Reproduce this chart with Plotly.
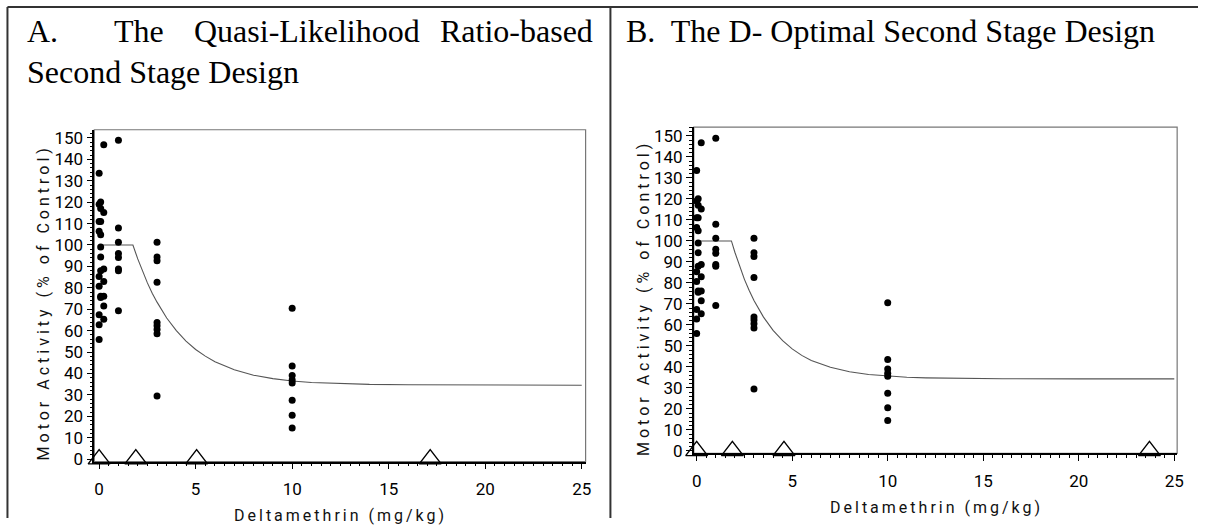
import plotly.graph_objects as go

# ---------------- data ----------------
# observed motor activity (% of control) by deltamethrin dose (mg/kg); same first-stage data in both panels
dose_obs = [0, 0, 0, 0, 0, 0, 0, 0, 0,
            0.08, 0.08, 0.08, 0.08, 0.08, 0.08, 0.08, 0.08, 0.08,
            0.24, 0.24, 0.24, 0.24, 0.24, 0.24, 0.24,
            1, 1, 1, 1, 1, 1, 1, 1,
            3, 3, 3, 3, 3, 3, 3, 3, 3,
            10, 10, 10, 10, 10, 10, 10, 10]
activity_obs = [133.5, 119, 111, 106.4, 85.3, 80.7, 67.4, 62.8, 55.9,
                120.1, 117, 111, 104.8, 99, 94.4, 88, 76.1, 75.5,
                146.8, 115.2, 88.8, 83, 76.1, 71.5, 65.3,
                148.9, 107.9, 101.3, 96, 94.1, 88.8, 88, 69.3,
                101.3, 94.4, 92.6, 82.6, 63.8, 62.3, 60.5, 58.5, 29.5,
                70.5, 43.5, 39, 37, 35.5, 27.5, 20.5, 14.5]

# fitted curve, panel A
curve_a_x = [0, 1.75, 2, 2.25, 2.5, 2.75, 3, 3.5, 4, 4.5, 5, 5.5, 6, 7, 8, 9, 10, 11, 12, 14, 16, 20, 25]
curve_a_y = [100, 100, 93.5, 87.6, 82.3, 77.5, 73.3, 65.9, 60.0, 55.1, 51.2, 48.1, 45.5, 41.7, 39.2,
             37.6, 36.5, 35.8, 35.4, 34.9, 34.7, 34.5, 34.5]
# fitted curve, panel B
curve_b_x = [0, 1.82, 2, 2.25, 2.5, 2.75, 3, 3.5, 4, 4.5, 5, 5.5, 6, 7, 8, 9, 10, 11, 12, 14, 16, 20, 25]
curve_b_y = [100, 100, 94.6, 87.8, 81.7, 76.4, 71.6, 63.7, 57.4, 52.5, 48.6, 45.5, 43.1, 39.8, 37.7,
             36.4, 35.6, 35.1, 34.8, 34.5, 34.4, 34.3, 34.3]

# second stage design points (triangles)
design_a = [0, 1.9, 5.05, 17.15]
design_b = [0, 1.87, 4.57, 23.7]
design_level = [0, 0, 0, 0]

x_ticks = [0, 5, 10, 15, 20, 25]
y_ticks = list(range(0, 151, 10))

title_a_line1 = ["A.", "The", "Quasi-Likelihood", "Ratio-based"]
title_a_line2 = "Second Stage Design"
title_b = "B.\u00a0 The D- Optimal Second Stage Design"
x_title = "Deltamethrin (mg/kg)"
y_title = "Motor Activity (% of Control)"

# ---------------- figure ----------------
W, H = 1205, 525
fig = go.Figure()

def px(xp):
    return xp / W

def py(yp):
    return 1 - yp / H

for i, (cx, cy, dx) in enumerate([(curve_a_x, curve_a_y, design_a), (curve_b_x, curve_b_y, design_b)]):
    xa = "x" if i == 0 else "x2"
    ya = "y" if i == 0 else "y2"
    fig.add_trace(go.Scatter(x=cx, y=cy, mode="lines", xaxis=xa, yaxis=ya,
                             line=dict(color="#555555", width=1.1), showlegend=False, hoverinfo="skip"))
    fig.add_trace(go.Scatter(x=dose_obs, y=activity_obs, mode="markers", xaxis=xa, yaxis=ya,
                             marker=dict(color="black", size=7, line=dict(width=0)), showlegend=False))
    fig.add_trace(go.Scatter(x=dx, y=design_level, mode="markers", xaxis=xa, yaxis=ya, cliponaxis=False,
                             marker=dict(symbol="triangle-up-open", size=19, color="black",
                                         line=dict(width=1.4, color="black")), showlegend=False))

tickfont = dict(family="Roboto", size=17, color="black")

def xaxis(domain, rng):
    return dict(domain=domain, range=rng, tickvals=x_ticks, ticks="outside", ticklen=6, tickwidth=1.2,
                tickcolor="black", showline=True, linecolor="black", linewidth=1.5, mirror=False,
                showgrid=False, zeroline=False, tickfont=tickfont, fixedrange=True, ticklabelstandoff=5,
                minor=dict(dtick=0.5, tick0=0, ticks="outside", ticklen=3, tickwidth=1, tickcolor="black"))

def yaxis(domain, rng, anchor):
    return dict(domain=domain, range=rng, tickvals=y_ticks, ticks="outside", ticklen=6, tickwidth=1.2,
                tickcolor="black", showline=True, linecolor="black", linewidth=1.5, mirror=False,
                showgrid=False, zeroline=False, tickfont=tickfont, anchor=anchor, fixedrange=True,
                minor=dict(dtick=2, tick0=0, ticks="outside", ticklen=3, tickwidth=1, tickcolor="black"))

fig.update_layout(
    width=W, height=H, autosize=False,
    margin=dict(l=0, r=0, t=0, b=0),
    paper_bgcolor="white", plot_bgcolor="white",
    xaxis=xaxis([px(93), px(588)], [-0.25, 25.2]),
    yaxis=yaxis([1 - 467.7 / H, 1 - 130 / H], [-1.2, 153.8], "x"),
    xaxis2=dict(xaxis([px(697), px(1184)], [-0.15, 25.15]), anchor="y2"),
    yaxis2=yaxis([1 - 459.3 / H, 1 - 127.3 / H], [-1.2, 154.2], "x2"),
)

# plot frames (top/right lines in gray)
for xr, yr in [("x domain", "y domain"), ("x2 domain", "y2 domain")]:
    fig.add_shape(type="rect", xref=xr, yref=yr, x0=0, x1=1, y0=0, y1=1,
                  line=dict(color="#777777", width=1.2), layer="below")

# outer page frame lines
frame = dict(color="#333333", width=2)
fig.add_shape(type="line", xref="paper", yref="paper", x0=px(5.5), x1=px(5.5), y0=py(5), y1=0, line=frame)
fig.add_shape(type="line", xref="paper", yref="paper", x0=px(5.5), x1=1, y0=py(5), y1=py(5), line=frame)
fig.add_shape(type="line", xref="paper", yref="paper", x0=px(613), x1=px(613), y0=py(5), y1=0, line=frame)

serif = dict(family="Liberation Serif", size=32, color="black")

def ann(text, x, y, xanchor="left", yanchor="middle", font=serif, angle=0):
    fig.add_annotation(text=text, x=px(x), y=py(y), xref="paper", yref="paper", showarrow=False,
                       xanchor=xanchor, yanchor=yanchor, font=font, textangle=angle)

# titles
title_a_x = [23, 111, 191, 597]
for word, xx in zip(title_a_line1, title_a_x):
    ann(word, xx, 30, xanchor="right" if word == "Ratio-based" else "left")
ann(title_a_line2, 23, 71)
ann(title_b, 627, 29)

# axis titles
lab = dict(family="Roboto", size=16, color="#111111")
def spaced(t, s):
    return '<span style="letter-spacing:%spx">%s</span>' % (s, t)

ann(spaced(x_title, 3), 341.5, 522, xanchor="center", font=lab)
ann(spaced(x_title, 3), 941.7, 514, xanchor="center", font=lab)
ann(spaced(y_title, 4), 42, 306, xanchor="center", font=lab, angle=-90)
ann(spaced(y_title, 4), 647, 301, xanchor="center", font=lab, angle=-90)

fig.write_html("out.html")
